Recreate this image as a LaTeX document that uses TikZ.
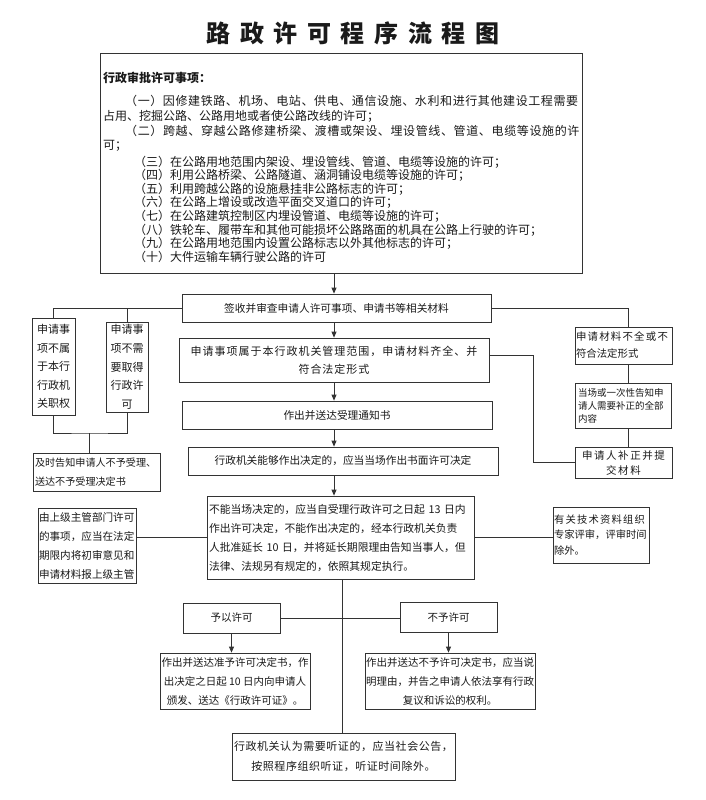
\documentclass[tikz,border=0pt]{standalone}
\usepackage{fontspec}
\setmainfont{Noto Sans CJK SC}
\usetikzlibrary{arrows.meta}
\definecolor{ln}{HTML}{333333}
\definecolor{tx}{HTML}{1A1A1A}
\newcommand{\myfs}[2]{\fontsize{#1}{#2}\selectfont}
\tikzset{
  box/.style={draw=ln, line width=0.8pt, inner sep=0pt, text=tx, align=center},
  conn/.style={draw=ln, line width=0.8pt},
  arr/.style={conn, -{Triangle[length=6pt,width=5pt]}},
  tl/.style={anchor=west, inner sep=0pt, text=tx, font=\myfs{12}{12}},
}
\begin{document}
\begin{tikzpicture}[x=1pt,y=-1pt]
\fill[white] (0,0) rectangle (705,800);
\useasboundingbox (0,0) rectangle (705,800);

% title
\node[inner sep=0pt, text=tx, font=\myfs{24}{24}\bfseries\addfontfeature{LetterSpace=40}] (title) at (353,33) {路政许可程序流程图};

% top box
\node[box, minimum width=482pt, minimum height=220pt] (top) at (341,163) {};
\node[tl, font=\myfs{12}{12}\bfseries] (hd) at (103,78) {行政审批许可事项：};
\node[tl, font=\myfs{12}{12}\addfontfeature{LetterSpace=5}] (i1) at (125,101) {（一）因修建铁路、机场、电站、供电、通信设施、水利和进行其他建设工程需要};
\node[tl] (i1b) at (103,116) {占用、挖掘公路、公路用地或者使公路改线的许可；};
\node[tl, font=\myfs{12}{12}\addfontfeature{LetterSpace=5.3}] (i2) at (125,131) {（二）跨越、穿越公路修建桥梁、渡槽或架设、埋设管线、管道、电缆等设施的许};
\node[tl] (i2b) at (103,146) {可；};
\node[tl] (i3) at (134,162) {（三）在公路用地范围内架设、埋设管线、管道、电缆等设施的许可；};
\node[tl] (i4) at (134,175.6) {（四）利用公路桥梁、公路隧道、涵洞铺设电缆等设施的许可；};
\node[tl] (i5) at (134,189.2) {（五）利用跨越公路的设施悬挂非公路标志的许可；};
\node[tl] (i6) at (134,202.8) {（六）在公路上增设或改造平面交叉道口的许可；};
\node[tl] (i7) at (134,216.4) {（七）在公路建筑控制区内埋设管道、电缆等设施的许可；};
\node[tl] (i8) at (134,230) {（八）铁轮车、履带车和其他可能损坏公路路面的机具在公路上行驶的许可；};
\node[tl] (i9) at (134,243.6) {（九）在公路用地范围内设置公路标志以外其他标志的许可；};
\node[tl] (i10) at (134,257.2) {（十）大件运输车辆行驶公路的许可};

% central column
\node[box, minimum width=309pt, minimum height=28pt, font=\myfs{10.7}{12}] (b2) at (336.5,308) {签收并审查申请人许可事项、申请书等相关材料};
\node[box, minimum width=310pt, minimum height=44pt, font=\myfs{11}{18}\addfontfeature{LetterSpace=9}] (b3) at (334,360) {申请事项属于本行政机关管理范围，申请材料齐全、并\\符合法定形式};
\node[box, minimum width=310pt, minimum height=28pt, font=\myfs{10.7}{12}] (b4) at (337,415) {作出并送达受理通知书};
\node[box, minimum width=310pt, minimum height=28pt, font=\myfs{10.7}{12}] (b5) at (343,461) {行政机关能够作出决定的，应当当场作出书面许可决定};
\node[box, text width=263pt, inner xsep=2pt, minimum height=83pt, align=left, font=\myfs{10.8}{19}] (b6) at (340.5,537.5) {不能当场决定的，应当自受理行政许可之日起 13 日内\\作出许可决定，不能作出决定的，经本行政机关负责\\人批准延长 10 日，并将延长期限理由告知当事人，但\\法律、法规另有规定的，依照其规定执行。};

% left column
\node[box, minimum width=43pt, minimum height=97pt, font=\myfs{11}{18.5}] (L1) at (53.5,366.5) {申请事\\项不属\\于本行\\行政机\\关职权};
\node[box, minimum width=42pt, minimum height=90pt, font=\myfs{11}{18.75}] (L2) at (127,367) {申请事\\项不需\\要取得\\行政许\\可};
\node[box, text width=123pt, inner xsep=2pt, minimum height=38pt, align=left, font=\myfs{10.1}{19}] (L3) at (96.5,472) {及时告知申请人不予受理、\\送达不予受理决定书};
\node[box, text width=96pt, inner xsep=1pt, minimum height=75pt, align=left, font=\myfs{10.6}{19}] (L4) at (87,545.5) {由上级主管部门许可\\的事项，应当在法定\\期限内将初审意见和\\申请材料报上级主管};

% right column
\node[box, text width=95pt, inner xsep=1pt, minimum height=37pt, align=left, font=\myfs{10.4}{17}] (R1) at (623.5,345.5) {{\addfontfeature{LetterSpace=12}申请材料不全或不}\\符合法定形式};
\node[box, text width=90pt, inner xsep=3pt, minimum height=45pt, align=left, font=\myfs{9.5}{13}] (R2) at (623,405.5) {当场或一次性告知申\\请人需要补正的全部\\内容};
\node[box, minimum width=97pt, minimum height=31pt, font=\myfs{10.5}{15}\addfontfeature{LetterSpace=15}] (R3) at (623.5,462.5) {申请人补正并提\\交材料};
\node[box, text width=94pt, inner xsep=1pt, minimum height=56pt, align=left, font=\myfs{10.3}{15.5}] (R4) at (601,535) {{\addfontfeature{LetterSpace=12}有关技术资料组织}\\专家评审，评审时间\\除外。};

% bottom
\node[box, minimum width=97pt, minimum height=30pt, font=\myfs{10.5}{12}] (Y) at (231.5,618) {予以许可};
\node[box, minimum width=97pt, minimum height=30pt, font=\myfs{10.5}{12}] (N) at (448.5,617) {不予许可};
\node[box, minimum width=150pt, minimum height=56pt, font=\myfs{10.5}{19}] (YD) at (235,681) {作出并送达准予许可决定书，作\\出决定之日起 10 日内向申请人\\颁发、送达《行政许可证》。};
\node[box, minimum width=170pt, minimum height=56pt, font=\myfs{10.5}{19}] (ND) at (450,681) {作出并送达不予许可决定书，应当说\\明理由，并告之申请人依法享有行政\\复议和诉讼的权利。};
\node[box, minimum width=223pt, minimum height=47pt, font=\myfs{11}{20}\addfontfeature{LetterSpace=5}] (F) at (343.5,756.5) {行政机关认为需要听证的，应当社会公告，\\按照程序组织听证，听证时间除外。};

% guide coordinates
\coordinate (c1) at (334,0);
\coordinate (c2) at (533,0);
\coordinate (c3) at (342,0);
\coordinate (j1) at (89,433);

% connectors
\draw[arr] (c1 |- top.south) -- (c1 |- b2.north);
\draw[arr] (c1 |- b2.south) -- (c1 |- b3.north);
\draw[arr] (c1 |- b3.south) -- (c1 |- b4.north);
\draw[arr] (c1 |- b4.south) -- (c1 |- b5.north);
\draw[arr] (c1 |- b5.south) -- (c1 |- b6.north);

\draw[conn] (b2.west) -| (L1.north);
\draw[conn] (L2.north) -- (L2.north |- b2.west);
\draw[conn] (L1.south) |- (j1) -| (L2.south);
\draw[conn] (j1) -- (j1 |- L3.north);

\draw[conn] (b2.east) -| ([xshift=4.5pt]R1.north);
\draw[conn] ([xshift=4.5pt]R1.south) -- ([xshift=5pt]R2.north);
\draw[conn] ([xshift=5pt]R2.south) -- ([xshift=4.5pt]R3.north);
\draw[conn] ([yshift=5pt]b3.east) -| (c2 |- R3.west) -- (R3.west);

\draw[conn] (L4.east |- b6.west) -- (b6.west);
\draw[conn] (b6.east) -- (b6.east -| R4.west);

\draw[conn] (c3 |- b6.south) -- (c3 |- F.north);
\draw[conn] (Y.east) -- (Y.east -| N.west);
\draw[arr] (Y.south) -- (Y.south |- YD.north);
\draw[arr] (N.south) -- (N.south |- ND.north);
\end{tikzpicture}
\end{document}
